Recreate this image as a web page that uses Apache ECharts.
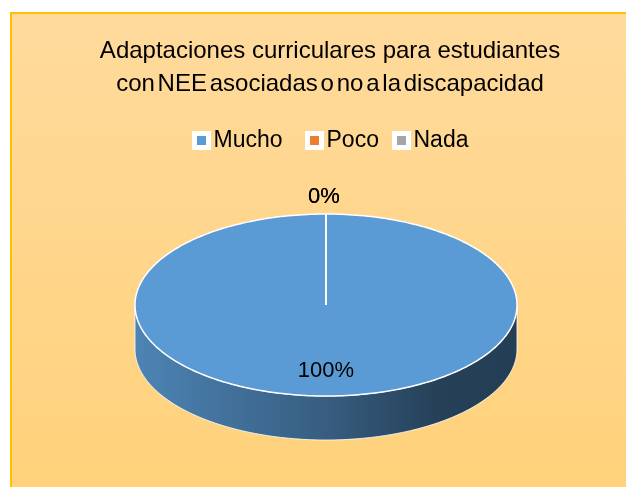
<!DOCTYPE html>
<html>
<head>
<meta charset="utf-8">
<script src="https://cdn.jsdelivr.net/npm/echarts@6/dist/echarts.min.js"></script>
<style>
  html, body { margin: 0; padding: 0; background: #fff; }
  #chart { width: 626px; height: 487px; }
</style>
</head>
<body>
<div id="chart"></div>
<script>
// Chart data
const categories = ['Mucho', 'Poco', 'Nada']
const values = [100, 0, 0]
const colors = ['#5B9BD5', '#ED7D31', '#A5A5A5']
const titleLines = ['Adaptaciones curriculares para estudiantes', 'con NEE asociadas o no a la discapacidad']

const FONT = '"Liberation Sans", Arial, sans-serif'
const chart = echarts.init(document.getElementById('chart'))

// 3D pie geometry
const cx = 326, cy = 305, rx = 191, ry = 91, depth = 44
const total = values.reduce((a, b) => a + b, 0)
const starts = []
let acc = 0
values.forEach(v => { starts.push(acc); acc += v })

function pt(theta, dy) {
  return [cx + rx * Math.sin(theta), cy - ry * Math.cos(theta) + (dy || 0)]
}

function arcPoints(a0, a1, dy) {
  const pts = []
  const n = Math.max(2, Math.ceil(Math.abs(a1 - a0) / 0.02))
  for (let i = 0; i <= n; i++) pts.push(pt(a0 + (a1 - a0) * i / n, dy))
  return pts
}

// darker shades for the side wall, left (lit) to right (shadow)
function shade(hex, k) {
  const n = parseInt(hex.slice(1), 16)
  const r = Math.round(((n >> 16) & 255) * k)
  const g = Math.round(((n >> 8) & 255) * k)
  const b = Math.round((n & 255) * k)
  return 'rgb(' + r + ',' + g + ',' + b + ')'
}

function sideGradient(c) {
  return new echarts.graphic.LinearGradient(cx - rx, 0, cx + rx, 0, [
    { offset: 0, color: shade(c, 0.85) },
    { offset: 0.5, color: shade(c, 0.6) },
    { offset: 0.8, color: shade(c, 0.41) },
    { offset: 1, color: shade(c, 0.4) },
  ], true)
}

function renderItem(params, api) {
  const i = params.dataIndex
  const a0 = starts[i] / total * Math.PI * 2
  const a1 = (starts[i] + values[i]) / total * Math.PI * 2
  const children = []

  // visible side wall (front half: angles between PI/2 and 3PI/2)
  const w0 = Math.max(a0, Math.PI / 2)
  const w1 = Math.min(a1, Math.PI * 1.5)
  if (w1 > w0) {
    const top = arcPoints(w0, w1, 0)
    const bottom = arcPoints(w1, w0, depth)
    children.push({
      type: 'polygon',
      shape: { points: top.concat(bottom) },
      style: { fill: sideGradient(colors[i]), stroke: 'rgba(255,255,255,0.8)', lineWidth: 1 },
    })
  }

  // top face
  const face = [[cx, cy]].concat(arcPoints(a0, a1, 0))
  children.push({
    type: 'polygon',
    shape: { points: face },
    style: { fill: colors[i], stroke: '#ffffff', lineWidth: 1.5 },
  })

  // label
  const mid = (a0 + a1) / 2
  const pct = Math.round(values[i] / total * 100) + '%'
  let lx, ly
  if (values[i] / total < 0.05) {
    lx = cx + (rx + 12) * Math.sin(mid) - 2
    ly = cy - (ry + 17) * Math.cos(mid)
  } else {
    lx = cx + rx * 0.72 * Math.sin(mid)
    ly = cy - ry * 0.72 * Math.cos(mid)
  }
  children.push({
    type: 'text',
    style: {
      text: pct, x: lx, y: ly, align: 'center', verticalAlign: 'middle',
      fill: '#000', font: '22px ' + FONT,
    },
  })
  return { type: 'group', children: children }
}

const legendLeft = [187, 300, 387]

// second title line is set with narrow word gaps, as in the original
const titleText = titleLines[0] + '\n' + titleLines[1].split(' ').join('{s| }')

const option = {
  backgroundColor: '#ffffff',
  animation: false,
  graphic: [{
    type: 'rect',
    z: -10,
    shape: { x: 11, y: 13, width: 640, height: 500 },
    style: {
      fill: new echarts.graphic.LinearGradient(0, 0, 0, 1, [
        { offset: 0, color: '#FFDA9C' },
        { offset: 1, color: '#FFD179' },
      ]),
      stroke: '#FFC000',
      lineWidth: 2,
    },
  }],
  title: {
    text: titleText,
    left: 325,
    textAlign: 'center',
    top: 30,
    textStyle: {
      fontFamily: FONT,
      fontSize: 24,
      fontWeight: 'normal',
      color: '#000',
      lineHeight: 33,
      rich: {
        s: { fontSize: 10, lineHeight: 33 },
      },
    },
  },
  legend: categories.map((c, i) => ({
    data: [c],
    left: legendLeft[i],
    top: 124,
    icon: 'rect',
    itemWidth: 14,
    itemHeight: 14,
    itemStyle: { borderColor: '#ffffff', borderWidth: 5 },
    textStyle: { fontFamily: FONT, fontSize: 23, color: '#000' },
  })),
  series: [
    {
      type: 'custom',
      name: 'pie3d',
      coordinateSystem: 'none',
      renderItem: renderItem,
      data: values.map((v, i) => ({ name: categories[i], value: v })),
    },
  ].concat(categories.map((c, i) => ({
    type: 'custom',
    name: c,
    coordinateSystem: 'none',
    color: colors[i],
    renderItem: () => ({ type: 'group', children: [] }),
    data: [],
  }))),
}

chart.setOption(option)
</script>
</body>
</html>
